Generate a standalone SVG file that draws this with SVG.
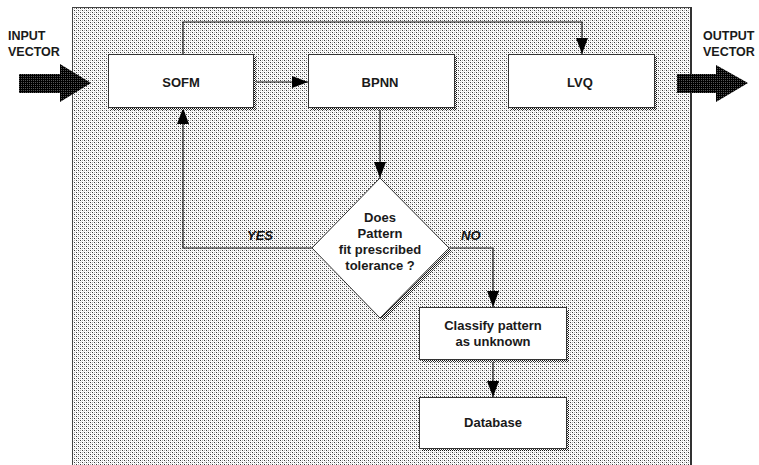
<svg xmlns="http://www.w3.org/2000/svg" width="759" height="465" viewBox="0 0 759 465">
  <defs>
    <!-- dithered light-gray fill of the panel -->
    <pattern id="dither" patternUnits="userSpaceOnUse" width="4" height="4">
      <rect width="4" height="4" fill="#ffffff"/>
      <rect x="0" y="0" width="1" height="1" fill="#3a3a3a"/>
      <rect x="2" y="2" width="1" height="1" fill="#3a3a3a"/>
      <rect x="2" y="0" width="1" height="1" fill="#b0b0b0"/>
      <rect x="0" y="2" width="1" height="1" fill="#b0b0b0"/>
      <rect x="1" y="1" width="1" height="1" fill="#e4e4e4"/>
      <rect x="3" y="3" width="1" height="1" fill="#e4e4e4"/>
    </pattern>
    <!-- darker dither used for drop shadows -->
    <pattern id="shade" patternUnits="userSpaceOnUse" width="2" height="2">
      <rect width="2" height="2" fill="#ffffff"/>
      <rect x="0" y="0" width="1" height="1" fill="#111"/>
      <rect x="1" y="1" width="1" height="1" fill="#333"/>
    </pattern>
    <pattern id="dark" patternUnits="userSpaceOnUse" width="2" height="2">
      <rect width="2" height="2" fill="#000"/>
      <rect x="1" y="0" width="1" height="1" fill="#555"/>
    </pattern>
    <marker id="head" viewBox="0 0 16 12" refX="16" refY="6" markerWidth="16" markerHeight="12" markerUnits="userSpaceOnUse" orient="auto">
      <path d="M0,0 L16,6 L0,12 Z" fill="#000"/>
    </marker>
  </defs>
  <style>
    .box { fill: #ffffff; stroke: #333; stroke-width: 1; }
    .sh { fill: url(#shade); }
    .lbl { font-family: "Liberation Sans", Arial, sans-serif; font-weight: bold; font-size: 13px; fill: #1a1a1a; text-anchor: middle; }
    .side { font-family: "Liberation Sans", Arial, sans-serif; font-weight: bold; font-size: 12.5px; fill: #1a1a1a; }
    .yn { font-family: "Liberation Sans", Arial, sans-serif; font-weight: bold; font-style: italic; font-size: 13px; fill: #111; }
    .wire { fill: none; stroke: #111; stroke-width: 1.2; }
  </style>

  <rect width="759" height="465" fill="#ffffff"/>

  <!-- panel -->
  <rect x="72.5" y="7.5" width="618" height="470" fill="url(#dither)" stroke="#444" stroke-width="1"/>
  <rect x="690" y="7" width="2" height="458" fill="#333"/>

  <!-- external labels and vector arrows -->
  <g id="input">
    <text class="side" x="8" y="40">INPUT</text>
    <text class="side" x="8" y="56">VECTOR</text>
    <path d="M19,74 H60 V64 L91,83 L60,102 V93 H19 Z" fill="url(#dark)"/>
  </g>
  <g id="output">
    <text class="side" x="703" y="40">OUTPUT</text>
    <text class="side" x="703" y="56">VECTOR</text>
    <path d="M677,74 H716 V65 L748,83 L716,102 V93 H677 Z" fill="url(#dark)"/>
  </g>

  <!-- connectors -->
  <g id="connectors">
    <path class="wire" d="M183,54 V22 H582 V54" marker-end="url(#head)"/>
    <path class="wire" d="M253,82 H308" marker-end="url(#head)"/>
    <path class="wire" d="M380,107 V178" marker-end="url(#head)"/>
    <path class="wire" d="M312,248 H183 V108" marker-end="url(#head)"/>
    <path class="wire" d="M449,248 H493 V307" marker-end="url(#head)"/>
    <path class="wire" d="M493,359 V397" marker-end="url(#head)"/>
    <text class="yn" x="247" y="240">YES</text>
    <text class="yn" x="461" y="240">NO</text>
  </g>

  <g id="sofm">
    <rect class="sh" x="111" y="57" width="145" height="53"/>
    <rect class="box" x="108.5" y="54.5" width="145" height="53"/>
    <text class="lbl" x="181" y="87">SOFM</text>
  </g>
  <g id="bpnn">
    <rect class="sh" x="311" y="57" width="146" height="53"/>
    <rect class="box" x="308.5" y="54.5" width="146" height="53"/>
    <text class="lbl" x="380" y="87">BPNN</text>
  </g>
  <g id="lvq">
    <rect class="sh" x="511" y="57" width="146" height="53"/>
    <rect class="box" x="508.5" y="54.5" width="146" height="53"/>
    <text class="lbl" x="580" y="87">LVQ</text>
  </g>

  <g id="decision">
    <path class="sh" d="M383,181 L452,251 L383,321 L315,251 Z"/>
    <path class="box" d="M380,178 L449,248 L380,318 L312,248 Z"/>
    <text class="lbl" x="380" y="222">Does</text>
    <text class="lbl" x="380" y="238">Pattern</text>
    <text class="lbl" x="380" y="254">fit prescribed</text>
    <text class="lbl" x="380" y="270">tolerance ?</text>
  </g>

  <g id="classify">
    <rect class="sh" x="422" y="310" width="147" height="52"/>
    <rect class="box" x="419.5" y="307.5" width="147" height="52"/>
    <text class="lbl" x="493" y="330">Classify pattern</text>
    <text class="lbl" x="493" y="346">as unknown</text>
  </g>

  <g id="database">
    <rect class="sh" x="422" y="400" width="147" height="51"/>
    <rect class="box" x="419.5" y="397.5" width="147" height="51"/>
    <text class="lbl" x="493" y="427">Database</text>
  </g>
</svg>
